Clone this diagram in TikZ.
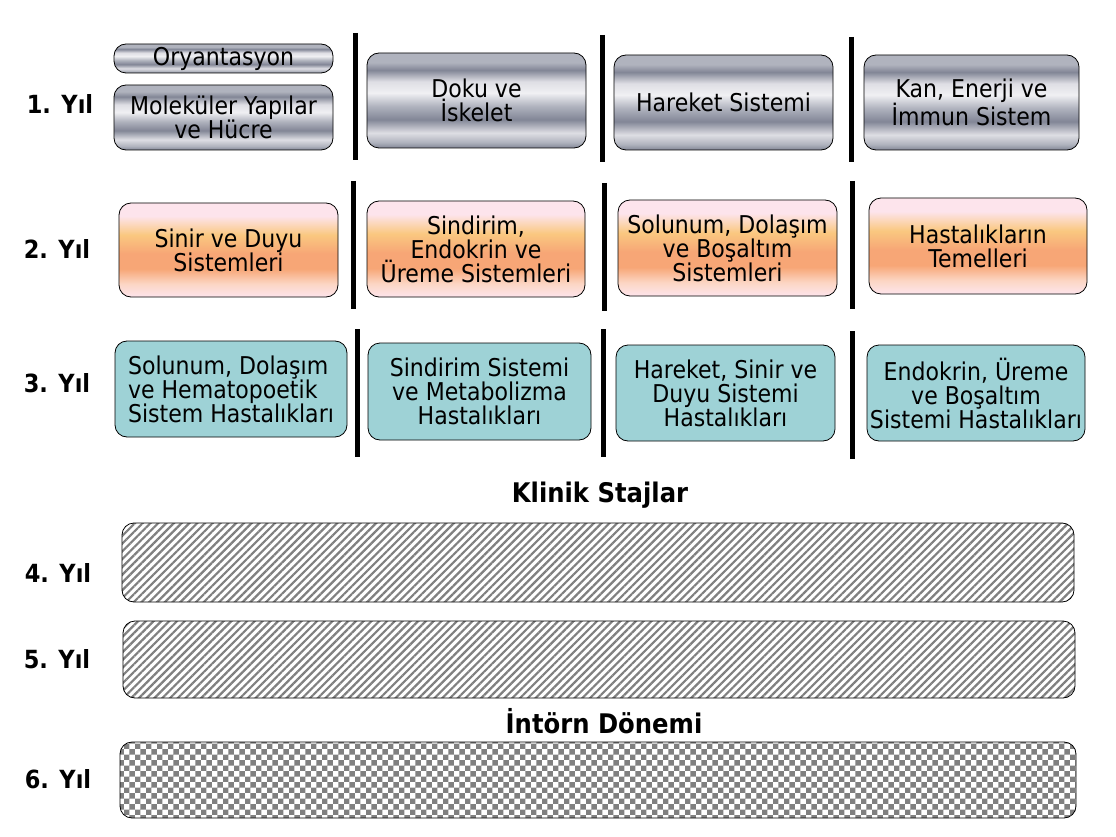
\documentclass[tikz,border=0pt]{standalone}
\usepackage{fontspec}
\setmainfont{DejaVu Sans}[FakeStretch=0.9]
\usetikzlibrary{patterns,patterns.meta}

\definecolor{mlight}{RGB}{222,222,228}
\definecolor{mwhite}{RGB}{240,240,243}
\definecolor{mmid}{RGB}{176,179,190}
\definecolor{mdark}{RGB}{130,134,150}
\definecolor{opink}{RGB}{253,228,236}
\definecolor{oyellow}{RGB}{250,200,128}
\definecolor{oorange}{RGB}{247,166,118}
\definecolor{opeach}{RGB}{252,214,196}
\definecolor{tealfill}{RGB}{158,210,214}

\pgfdeclareverticalshading{metal}{100bp}{color(0bp)=(mdark); color(25bp)=(mdark);
  color(28bp)=(mmid); color(33bp)=(mlight); color(40bp)=(mdark); color(47bp)=(mmid);
  color(54bp)=(mwhite); color(60bp)=(mlight); color(66bp)=(mdark); color(70bp)=(mmid);
  color(75bp)=(mmid); color(100bp)=(mmid)}
\pgfdeclareverticalshading{peach}{100bp}{color(0bp)=(opink); color(25bp)=(opink);
  color(32bp)=(opeach); color(40bp)=(oorange); color(48bp)=(oorange); color(58bp)=(oyellow);
  color(68bp)=(opink); color(75bp)=(opink); color(100bp)=(opink)}

\begin{document}
\begin{tikzpicture}[x=1pt,y=-1pt,
    box/.style={draw,line width=0.8pt,rounded corners=12pt,inner sep=0pt,align=center,
      font=\fontsize{24.5}{24}\selectfont},
    metalbox/.style={box,shading=metal},
    peachbox/.style={box,shading=peach},
    tealbox/.style={box,fill=tealfill},
    stagebox/.style={draw,line width=0.8pt,rounded corners=12pt,inner sep=0pt,
      pattern={Lines[angle=45,distance=5.5pt,line width=2.2pt]},pattern color=gray},
    internbox/.style={draw,line width=0.8pt,rounded corners=12pt,inner sep=0pt,
      pattern={checkerboard},pattern color=gray},
    yearlabel/.style={font=\fontsize{25}{25}\selectfont\bfseries},
    titlelabel/.style={font=\fontsize{27}{27}\selectfont\bfseries},
    bar/.style={line width=5pt}]
\useasboundingbox (0,0) rectangle (1116,837);

% year labels
\node[yearlabel] (y1) at (60,104) {1. Yıl};
\node[yearlabel] (y2) at (57,249) {2. Yıl};
\node[yearlabel] (y3) at (57,383) {3. Yıl};
\node[yearlabel] (y4) at (58,573) {4. Yıl};
\node[yearlabel] (y5) at (57,659) {5. Yıl};
\node[yearlabel] (y6) at (58,779) {6. Yıl};

% first year
\node[metalbox,minimum width=219pt,minimum height=29pt] (orient) at (223.5,58.5) {Oryantasyon};
\node[metalbox,minimum width=219pt,minimum height=65pt] (cell) at (223.5,117.5) {Moleküler Yapılar\\ve Hücre};
\node[metalbox,minimum width=219pt,minimum height=95pt] (tissue) at (476.5,100.5) {Doku ve\\İskelet};
\node[metalbox,minimum width=219pt,minimum height=95pt] (motion) at (723.5,102.5) {Hareket Sistemi};
\node[metalbox,minimum width=215pt,minimum height=95pt] (blood) at (971.5,102.5) {Kan, Enerji ve\\İmmun Sistem};

% second year
\node[peachbox,minimum width=219pt,minimum height=94pt] (nerve) at (228.5,250) {Sinir ve Duyu\\Sistemleri};
\node[peachbox,minimum width=218pt,minimum height=96pt] (digest) at (476,249) {Sindirim,\\Endokrin ve\\Üreme Sistemleri};
\node[peachbox,minimum width=219pt,minimum height=96pt] (breath) at (727.5,248) {Solunum, Dolaşım\\ve Boşaltım\\Sistemleri};
\node[peachbox,minimum width=218pt,minimum height=96pt] (disease) at (978,246) {Hastalıkların\\Temelleri};

% third year
\node[tealbox,minimum width=232pt,minimum height=96pt,align=left] (heart) at (231,389) {Solunum, Dolaşım\\ve Hematopoetik\\Sistem Hastalıkları};
\node[tealbox,minimum width=223pt,minimum height=97pt] (metab) at (479.5,391.5) {Sindirim Sistemi\\ve Metabolizma\\Hastalıkları};
\node[tealbox,minimum width=219pt,minimum height=96pt] (neuro) at (725.5,393) {Hareket, Sinir ve\\Duyu Sistemi\\Hastalıkları};
\node[tealbox,minimum width=218pt,minimum height=96pt] (endo) at (976,393) {Endokrin, Üreme\\ve Boşaltım\\Sistemi Hastalıkları};

% separators
\draw[bar] (355,33) -- (355,160);
\draw[bar] (602,35) -- (602,162);
\draw[bar] (851,37) -- (851,162);
\draw[bar] (353,181) -- (353,309);
\draw[bar] (604,183) -- (604,311);
\draw[bar] (852,181) -- (852,309);
\draw[bar] (357,329) -- (357,457);
\draw[bar] (603,329) -- (603,457);
\draw[bar] (852,331) -- (852,459);

% clinical years
\node[titlelabel] (clinic) at (600,495) {Klinik Stajlar};
\node[stagebox,minimum width=952pt,minimum height=79pt] (s4) at (598,562.5) {};
\node[stagebox,minimum width=952pt,minimum height=77pt] (s5) at (599,659.5) {};
\node[titlelabel] (intern) at (604,721) {İntörn Dönemi};
\node[internbox,minimum width=956pt,minimum height=76pt] (s6) at (598,780) {};
\end{tikzpicture}
\end{document}
